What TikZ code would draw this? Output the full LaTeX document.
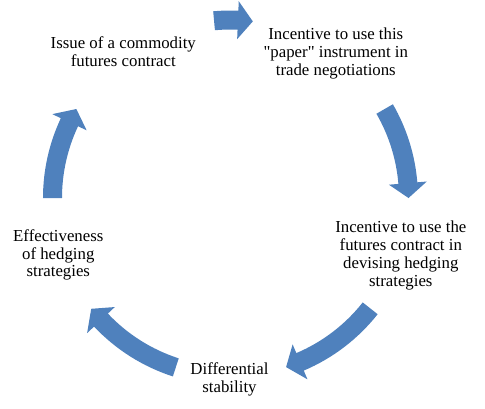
\documentclass[tikz,border=0pt]{standalone}
\usepackage{fontspec}
\setmainfont{Liberation Serif}[Ligatures=TeXOff]
\definecolor{cycblue}{RGB}{79,129,189}
\tikzset{
  lbl/.style={align=center,inner sep=0pt,font=\fontsize{12.6}{13.4}\selectfont},
  cycfill/.style={fill=cycblue}
}
\newcommand{\cycarrow}[2]{%
  \pgfmathsetmacro{\cychead}{#2+4.8}
  \fill[cycfill] (#1:187.5) arc[start angle=#1,end angle=\cychead,radius=187.5]
    -- (\cychead:197) -- (#2:178) -- (\cychead:159) -- (\cychead:168.5)
    arc[start angle=\cychead,end angle=#1,radius=168.5] -- cycle;
}

\begin{document}
\begin{tikzpicture}[x=0.75pt,y=0.75pt]
  \useasboundingbox (-230.5,-210) rectangle (254.5,198);
  \foreach \sa/\ea in {95.3/82.8,30/0,-38.3/-71.8,-107.9/-141.5,180/150}
    {\cycarrow{\sa}{\ea}}
  \node[lbl] (issue) at (-107.2,146.5) {Issue of a commodity\\futures contract};
  \node[lbl] (paper) at (105.3,144.7) {Incentive to use this\\"paper" instrument in\\trade negotiations};
  \node[lbl] (hedge) at (170.3,-57.2) {Incentive to use the\\futures contract in\\devising hedging\\strategies};
  \node[lbl] (diff) at (-1,-181.1) {Differential\\stability};
  \node[lbl] (effect) at (-172.2,-57) {Effectiveness\\of hedging\\strategies};
\end{tikzpicture}
\end{document}
